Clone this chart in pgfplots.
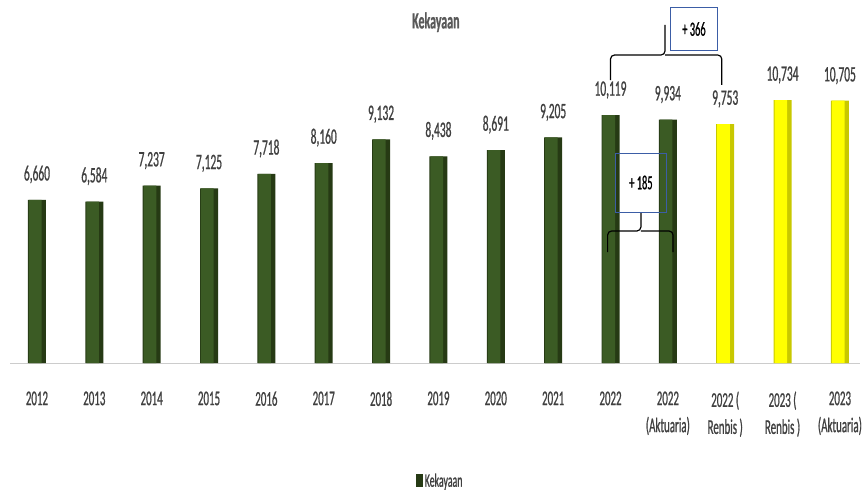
\documentclass[border=0pt]{standalone}
\usepackage{fontspec}
\setmainfont{Carlito}[FakeStretch=0.52, FakeBold=0.8]
\usepackage{pgfplots}
\pgfplotsset{compat=1.18}
\definecolor{gbase}{HTML}{263A14}
\definecolor{glight}{HTML}{3B5B24}
\definecolor{ybase}{HTML}{C8C800}
\definecolor{ylight}{HTML}{FFFF00}
\definecolor{txt}{HTML}{404040}
\definecolor{ttl}{HTML}{595959}
\definecolor{boxblue}{HTML}{3B5DA6}
\begin{document}
\begin{tikzpicture}[x=1pt,y=1pt]
\useasboundingbox (-10,-130) rectangle (854,363);
\begin{axis}[
  at={(0,0)}, anchor=south west,
  scale only axis, width=850pt, height=303.8pt,
  xmin=-0.47, xmax=14.35, ymin=0, ymax=12400,
  ybar, bar width=0.314,
  axis y line=none, axis x line*=bottom,
  x axis line style={draw=black!20, line width=1pt, -},
  xtick={0,...,14},
  xticklabels={2012,2013,2014,2015,2016,2017,2018,2019,2020,2021,2022,{2022\\(Aktuaria)},{2022 (\\Renbis )},{2023 (\\Renbis )},{2023\\(Aktuaria)}},
  major tick length=0pt,
  xticklabel style={align=center, font=\fontsize{21}{27}\selectfont, text=txt, yshift=-25pt},
  clip=false,
  /pgf/number format/assume math mode=true,
  nodes near coords style={font=\fontsize{22}{26}\selectfont, text=txt, yshift=13pt},
  legend style={draw=none, at={(0.506,-0.388)}, anchor=center, font=\fontsize{19}{22}\selectfont, text=txt},
  legend image code/.code={\fill[gbase] (0pt,-6pt) rectangle (7pt,7pt);},
]
\addplot[fill=gbase, draw=none, bar shift=0, nodes near coords] coordinates {
(0,6660) (1,6584) (2,7237) (3,7125) (4,7718) (5,8160) (6,9132) (7,8438) (8,8691) (9,9205) (10,10119) (11,9934)};
\addlegendentry{Kekayaan}
\addplot[fill=glight, draw=none, bar width=0.22, bar shift=-0.03, forget plot] coordinates {
(0,6660) (1,6584) (2,7237) (3,7125) (4,7718) (5,8160) (6,9132) (7,8438) (8,8691) (9,9205) (10,10119) (11,9934)};
\addplot[fill=ybase, draw=none, bar shift=0, nodes near coords, forget plot] coordinates {
(12,9753) (13,10734) (14,10705)};
\addplot[fill=ylight, draw=none, bar width=0.22, bar shift=-0.03, forget plot] coordinates {
(12,9753) (13,10734) (14,10705)};

% annotations
\draw[line width=1.2pt, rounded corners=4pt] (axis cs:10.0,11551) |- (axis cs:10.95,12571) -- (axis cs:10.95,13796);
\draw[line width=1.2pt, rounded corners=4pt] (axis cs:10.95,12571) -| (axis cs:11.94,11347);
\draw[boxblue, line width=1pt] (axis cs:11.04,12775) rectangle (axis cs:11.87,14490);
\node[font=\fontsize{20}{24}\selectfont] at (axis cs:11.455,13632) {+ 366};

\draw[line width=1.2pt, rounded corners=4pt] (axis cs:9.95,4530) |- (axis cs:10.53,5388) -- (axis cs:10.53,6163);
\draw[line width=1.2pt, rounded corners=4pt] (axis cs:10.53,5388) -| (axis cs:11.09,4530);
\draw[boxblue, line width=1pt] (axis cs:10.08,6163) rectangle (axis cs:10.98,8571);
\node[font=\fontsize{20}{24}\selectfont] at (axis cs:10.53,7367) {+ 185};

\node[font=\bfseries\fontsize{23}{27}\selectfont, text=ttl] at (rel axis cs:0.501,1.122) {Kekayaan};
\end{axis}
\end{tikzpicture}
\end{document}
